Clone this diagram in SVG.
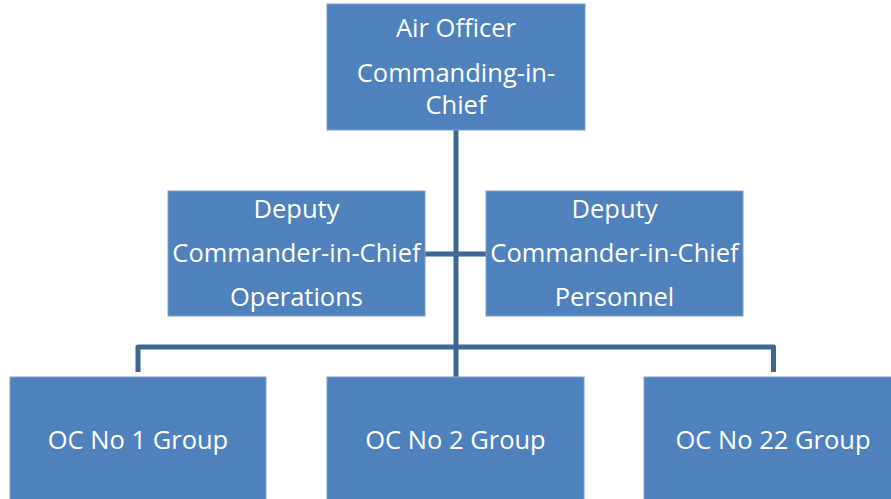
<svg xmlns="http://www.w3.org/2000/svg" width="891" height="499" viewBox="0 0 891 499">
<style>
.box{fill:#4F81BD;stroke:#7BA0CD;stroke-width:1}
.t{font-family:"Open Sans","Liberation Sans",sans-serif;font-size:25.5px;fill:#FFFFFF;text-anchor:middle}
.c{fill:none;stroke:#3D6595;stroke-width:5;stroke-linejoin:round}
</style>
<rect width="891" height="499" fill="#FFFFFF"/>
<g id="connectors">
<path class="c" d="M456,130 V377"/>
<path class="c" d="M425,254 H486"/>
<path class="c" d="M138,372 V347 H773.5 V372"/>
</g>
<g id="aoc">
<rect class="box" x="327" y="4" width="258" height="126"/>
<text class="t" x="456" y="37">Air Officer</text>
<text class="t" x="456" y="82">Commanding-in-</text>
<text class="t" x="456" y="114">Chief</text>
</g>
<g id="dcinc-ops">
<rect class="box" x="168" y="191" width="257" height="125"/>
<text class="t" x="296.5" y="218">Deputy</text>
<text class="t" x="296.5" y="262">Commander-in-Chief</text>
<text class="t" x="296.5" y="306">Operations</text>
</g>
<g id="dcinc-pers">
<rect class="box" x="486" y="191" width="257" height="125"/>
<text class="t" x="614.5" y="218">Deputy</text>
<text class="t" x="614.5" y="262">Commander-in-Chief</text>
<text class="t" x="614.5" y="306">Personnel</text>
</g>
<g id="oc1">
<rect class="box" x="10" y="377" width="256" height="130"/>
<text class="t" x="138" y="449">OC No 1 Group</text>
</g>
<g id="oc2">
<rect class="box" x="327" y="377" width="257" height="130"/>
<text class="t" x="455.5" y="449">OC No 2 Group</text>
</g>
<g id="oc22">
<rect class="box" x="644" y="377" width="258" height="130"/>
<text class="t" x="773" y="449">OC No 22 Group</text>
</g>
</svg>
